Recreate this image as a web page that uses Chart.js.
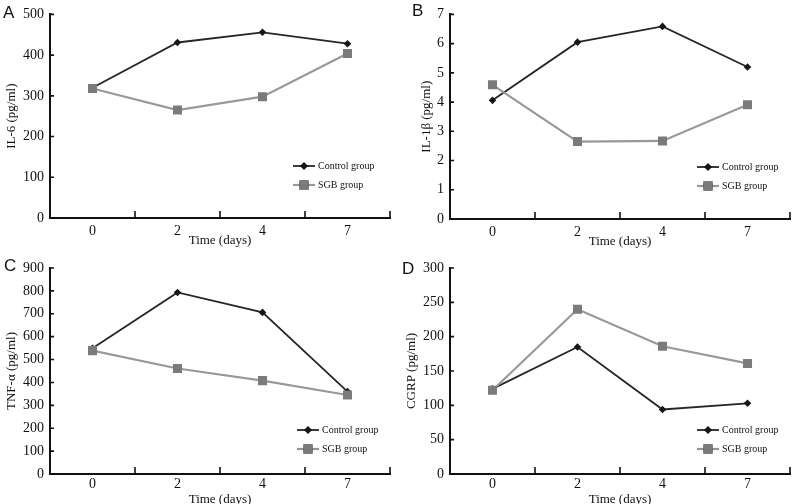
<!DOCTYPE html>
<html>
<head>
<meta charset="utf-8">
<script src="https://cdn.jsdelivr.net/npm/chart.js@4.4.1/dist/chart.umd.min.js"></script>
<style>
  html, body { margin: 0; padding: 0; background: #fff; width: 800px; height: 504px; overflow: hidden; }
  .panel { position: absolute; }
  .letter { position: absolute; font-family: "Liberation Sans", Arial, sans-serif; font-size: 17px; color: #111; line-height: 1; }
</style>
</head>
<body>
<div class="panel" style="left:0;top:0"><canvas id="cA" width="400" height="252"></canvas></div>
<div class="panel" style="left:400px;top:0"><canvas id="cB" width="400" height="252"></canvas></div>
<div class="panel" style="left:0;top:252px"><canvas id="cC" width="400" height="262"></canvas></div>
<div class="panel" style="left:400px;top:252px"><canvas id="cD" width="400" height="262"></canvas></div>
<div class="letter" style="left:3px;top:4px">A</div>
<div class="letter" style="left:412px;top:2px">B</div>
<div class="letter" style="left:4px;top:257px">C</div>
<div class="letter" style="left:402px;top:260px">D</div>
<script>
// x categories
const days = ['0', '2', '4', '7'];
const seriesNames = ['Control group', 'SGB group'];

// IL-6 (pg/ml)
const il6Control = [320, 431, 456, 428];
const il6Sgb = [318, 265, 298, 404];
// IL-1beta (pg/ml)
const il1bControl = [4.06, 6.05, 6.59, 5.20];
const il1bSgb = [4.59, 2.65, 2.67, 3.91];
// TNF-alpha (pg/ml)
const tnfControl = [549, 793, 706, 360];
const tnfSgb = [539, 461, 408, 345];
// CGRP (pg/ml)
const cgrpControl = [124, 185, 94, 103];
const cgrpSgb = [122, 240, 186, 161];

// y axes
const yTitles = ['IL-6 (pg/ml)', 'IL-1β (pg/ml)', 'TNF-α (pg/ml)', 'CGRP (pg/ml)'];
const yMax = [500, 7, 900, 300];
const yStep = [100, 1, 100, 50];

Chart.defaults.font.family = '"Liberation Serif", "Times New Roman", serif';
Chart.defaults.color = '#111';

// short tick marks pointing into the plot
const innerTicks = {
    id: 'innerTicks',
    afterDraw(chart) {
        const ctx = chart.ctx;
        const a = chart.chartArea;
        const x = chart.scales.x, y = chart.scales.y;
        ctx.save();
        ctx.strokeStyle = '#111';
        ctx.lineWidth = 1.6;
        ctx.beginPath();
        y.ticks.forEach((t, i) => {
            const py = y.getPixelForTick(i);
            ctx.moveTo(a.left, py);
            ctx.lineTo(a.left + 4, py);
        });
        const w = x.width / days.length;
        for (let i = 1; i <= days.length; i++) {
            const px = x.left + i * w;
            ctx.moveTo(px, a.bottom);
            ctx.lineTo(px, a.bottom - 7);
        }
        ctx.stroke();
        ctx.restore();
    }
};

// legend sitting inside the plot, lower right
const miniLegend = {
    id: 'miniLegend',
    afterDatasetsDraw(chart, args, opts) {
        const ctx = chart.ctx;
        const a = chart.chartArea;
        ctx.save();
        chart.data.datasets.forEach((ds, i) => {
            const yy = a.bottom + opts.dy + i * 19;
            const x0 = opts.x;
            ctx.strokeStyle = ds.borderColor;
            ctx.lineWidth = ds.borderWidth;
            ctx.beginPath();
            ctx.moveTo(x0, yy);
            ctx.lineTo(x0 + 22, yy);
            ctx.stroke();
            Chart.helpers.drawPoint(ctx, {
                pointStyle: ds.pointStyle,
                radius: ds.pointRadius,
                borderWidth: 0
            }, x0 + 11, yy);
            ctx.fillStyle = ds.pointBackgroundColor;
            ctx.fill();
            ctx.fillStyle = '#111';
            ctx.font = '10px "Liberation Serif", serif';
            ctx.textBaseline = 'middle';
            ctx.fillText(ds.label, x0 + 25, yy);
        });
        ctx.restore();
    }
};

function makeChart(id, k, control, sgb, lay) {
    new Chart(document.getElementById(id), {
        type: 'line',
        data: {
            labels: days,
            datasets: [{
                label: seriesNames[0],
                data: control,
                borderColor: '#262626',
                borderWidth: 1.8,
                pointStyle: 'rectRot',
                pointRadius: 3.8,
                pointBackgroundColor: '#161616',
                pointBorderWidth: 0,
                tension: 0,
                order: 1
            }, {
                label: seriesNames[1],
                data: sgb,
                borderColor: '#999999',
                borderWidth: 2.2,
                pointStyle: 'rect',
                pointRadius: 6.4,
                pointBackgroundColor: '#7b7b7b',
                pointBorderWidth: 0,
                tension: 0,
                order: 0
            }]
        },
        options: {
            responsive: false,
            animation: false,
            layout: { padding: { left: 0, top: lay.top, right: 10, bottom: 0 } },
            plugins: {
                legend: { display: false },
                tooltip: { enabled: false },
                miniLegend: { x: lay.legX, dy: lay.legDy }
            },
            scales: {
                x: {
                    offset: true,
                    grid: { display: false, drawTicks: false },
                    border: { display: true, color: '#111', width: 2 },
                    ticks: { font: { size: 14 }, padding: lay.xPad, maxRotation: 0 },
                    title: { display: true, text: 'Time (days)', font: { size: 13 }, padding: { top: 0, bottom: lay.xTitlePad } },
                    afterFit(s) { s.height = lay.xH; }
                },
                y: {
                    min: 0,
                    max: yMax[k],
                    grid: { display: false, drawTicks: false },
                    border: { display: true, color: '#111', width: 2 },
                    ticks: { stepSize: yStep[k], font: { size: 14 }, padding: 6 },
                    title: { display: true, text: yTitles[k], font: { size: 13 }, padding: { top: lay.yTitlePad, bottom: 0 } },
                    afterFit(s) { s.width = 50; }
                }
            }
        },
        plugins: [innerTicks, miniLegend]
    });
}

makeChart('cA', 0, il6Control, il6Sgb, { top: 14, xH: 34, xPad: 5, xTitlePad: 4, yTitlePad: 4, legX: 293, legDy: -52 });
makeChart('cB', 1, il1bControl, il1bSgb, { top: 6, xH: 33, xPad: 5, xTitlePad: 3, yTitlePad: 19, legX: 297, legDy: -52 });
makeChart('cC', 2, tnfControl, tnfSgb, { top: 16, xH: 40, xPad: 2, xTitlePad: 7, yTitlePad: 4, legX: 297, legDy: -44 });
makeChart('cD', 3, cgrpControl, cgrpSgb, { top: 16, xH: 40, xPad: 2, xTitlePad: 7, yTitlePad: 4, legX: 297, legDy: -44 });
</script>
</body>
</html>
